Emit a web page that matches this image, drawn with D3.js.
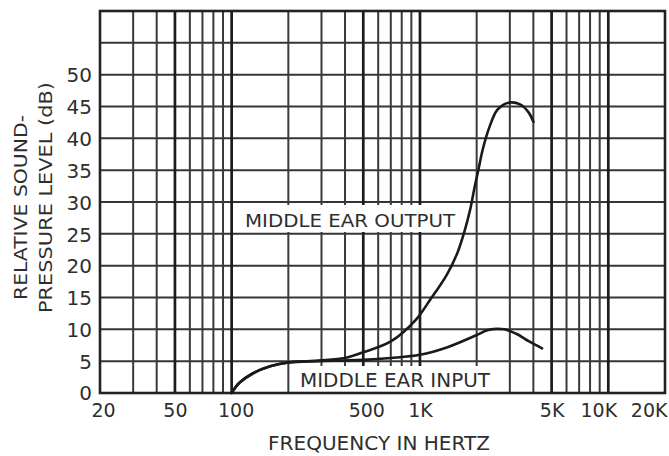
<!DOCTYPE html>
<html><head><meta charset="utf-8">
<script src="https://cdn.jsdelivr.net/npm/d3@7"></script>
<style>
html,body{margin:0;padding:0;background:#fff;}
svg{display:block;}
text{font-family:"DejaVu Sans",sans-serif;fill:#2e2e2e;}
</style></head><body>
<svg id="c" width="669" height="456"></svg>
<script>
// ---- data ----
const xTickValues = [20, 50, 100, 500, 1000, 5000, 10000, 20000];
const xTickLabels = ["20", "50", "100", "500", "1K", "5K", "10K", "20K"];
const yTickValues = [0, 5, 10, 15, 20, 25, 30, 35, 40, 45, 50];
const xGridMinor = [30, 40, 60, 70, 80, 90, 200, 300, 400, 600, 700, 800, 900, 2000, 3000, 4000, 6000, 7000, 8000, 9000];
const xGridMajor = [50, 100, 500, 1000, 5000, 10000];
const yGridValues = [5, 10, 15, 20, 25, 30, 35, 40, 45, 50, 55];

const outputFreq = [100, 110, 130, 160, 200, 290, 400, 500, 700, 950, 1130, 1390, 1580, 1720, 1850, 1940, 2040, 2160, 2340, 2580, 2950, 3420, 3790, 4000];
const outputDb   = [0, 1.6, 3.1, 4.2, 4.8, 5.1, 5.5, 6.4, 8.1, 11.5, 14.6, 18.6, 22, 25.3, 28.9, 32.0, 35.0, 38.4, 41.8, 44.5, 45.6, 45.3, 44.0, 42.6];
const inputFreq  = [100, 110, 130, 160, 200, 290, 400, 500, 700, 1000, 1400, 2000, 2300, 2800, 3250, 3800, 4450];
const inputDb    = [0, 1.6, 3.1, 4.2, 4.8, 5.0, 5.1, 5.2, 5.5, 6.0, 7.2, 9.1, 9.9, 10.0, 9.3, 8.1, 7.0];

const outputLabel = "MIDDLE EAR OUTPUT";
const inputLabel = "MIDDLE EAR INPUT";
const xTitle = "FREQUENCY IN HERTZ";
const yTitle1 = "RELATIVE SOUND-";
const yTitle2 = "PRESSURE LEVEL (dB)";

// ---- layout ----
const svg = d3.select("#c");
const x = d3.scaleLog().domain([20, 20000]).range([100, 665]);
const y = d3.scaleLinear().domain([0, 60]).range([393, 11]);
const pTop = y(60), pBottom = y(0), pLeft = x(20), pRight = x(20000);

// grid
const grid = svg.append("g");
grid.selectAll("line.hy").data(yGridValues).join("line")
  .attr("x1", pLeft).attr("x2", pRight)
  .attr("y1", d => y(d)).attr("y2", d => y(d))
  .attr("stroke", "#353535").attr("stroke-width", 2);
grid.selectAll("line.vm").data(xGridMinor).join("line")
  .attr("x1", d => x(d)).attr("x2", d => x(d))
  .attr("y1", pTop).attr("y2", pBottom)
  .attr("stroke", "#3a3a3a").attr("stroke-width", 2);
grid.selectAll("line.vM").data(xGridMajor).join("line")
  .attr("x1", d => x(d)).attr("x2", d => x(d))
  .attr("y1", pTop).attr("y2", pBottom)
  .attr("stroke", "#1c1c1c").attr("stroke-width", 2.7);

// label boxes (white backgrounds covering grid)
svg.append("rect").attr("x", 235).attr("y", 205).attr("width", 223).attr("height", 27).attr("fill", "#fff");
svg.append("rect").attr("x", 291).attr("y", 366).attr("width", 204).attr("height", 26).attr("fill", "#fff");

// frame
svg.append("rect").attr("x", pLeft).attr("y", pTop).attr("width", pRight - pLeft).attr("height", pBottom - pTop)
  .attr("fill", "none").attr("stroke", "#222").attr("stroke-width", 2.6);

// curves
const line = d3.line().x(d => x(d[0])).y(d => y(d[1])).curve(d3.curveCatmullRom.alpha(0.5));
svg.append("path").datum(d3.zip(outputFreq, outputDb)).attr("d", line)
  .attr("fill", "none").attr("stroke", "#1a1a1a").attr("stroke-width", 2.6).attr("stroke-linecap", "round");
svg.append("path").datum(d3.zip(inputFreq, inputDb)).attr("d", line)
  .attr("fill", "none").attr("stroke", "#1a1a1a").attr("stroke-width", 2.6).attr("stroke-linecap", "round");

// axes (labels only)
const xAxis = d3.axisBottom(x).tickValues(xTickValues).tickFormat((d, i) => xTickLabels[i]).tickSize(0).tickPadding(0);
const gx = svg.append("g").attr("transform", `translate(0,${pBottom})`).call(xAxis);
gx.select(".domain").remove();
gx.selectAll("text").attr("font-size", 19).attr("font-family", "DejaVu Sans").attr("fill", "#2e2e2e")
  .attr("y", 24).attr("dy", 0);
gx.selectAll("text").filter((d) => d === 20).attr("dx", 3);
gx.selectAll("text").filter((d) => d === 100).attr("dx", 4);
gx.selectAll("text").filter((d) => d === 500).attr("dx", 3);
gx.selectAll("text").filter((d) => d === 10000).attr("dx", -10);
gx.selectAll("text").filter((d) => d === 20000).attr("text-anchor", "end").attr("dx", 2);

const yAxis = d3.axisLeft(y).tickValues(yTickValues).tickSize(0).tickPadding(8);
const gy = svg.append("g").attr("transform", `translate(${pLeft},0)`).call(yAxis);
gy.select(".domain").remove();
gy.selectAll("text").attr("font-size", 20).attr("font-family", "DejaVu Sans").attr("fill", "#2e2e2e")
  .attr("dy", "0.36em");
gy.selectAll("text").filter((d) => d === 0).attr("dy", "0.3em");

// titles
svg.append("text").attr("x", 268).attr("y", 450).attr("font-size", 20)
  .attr("textLength", 222).attr("lengthAdjust", "spacingAndGlyphs").text(xTitle);
svg.append("text").attr("transform", "translate(27,300) rotate(-90)").attr("font-size", 18)
  .attr("textLength", 185).attr("lengthAdjust", "spacingAndGlyphs").text(yTitle1);
svg.append("text").attr("transform", "translate(52,313) rotate(-90)").attr("font-size", 18)
  .attr("textLength", 231).attr("lengthAdjust", "spacingAndGlyphs").text(yTitle2);

// curve labels
svg.append("text").attr("x", 245).attr("y", 227).attr("font-size", 18)
  .attr("textLength", 210).attr("lengthAdjust", "spacingAndGlyphs").text(outputLabel);
svg.append("text").attr("x", 300).attr("y", 387).attr("font-size", 19)
  .attr("textLength", 190).attr("lengthAdjust", "spacingAndGlyphs").text(inputLabel);
</script>
</body></html>
